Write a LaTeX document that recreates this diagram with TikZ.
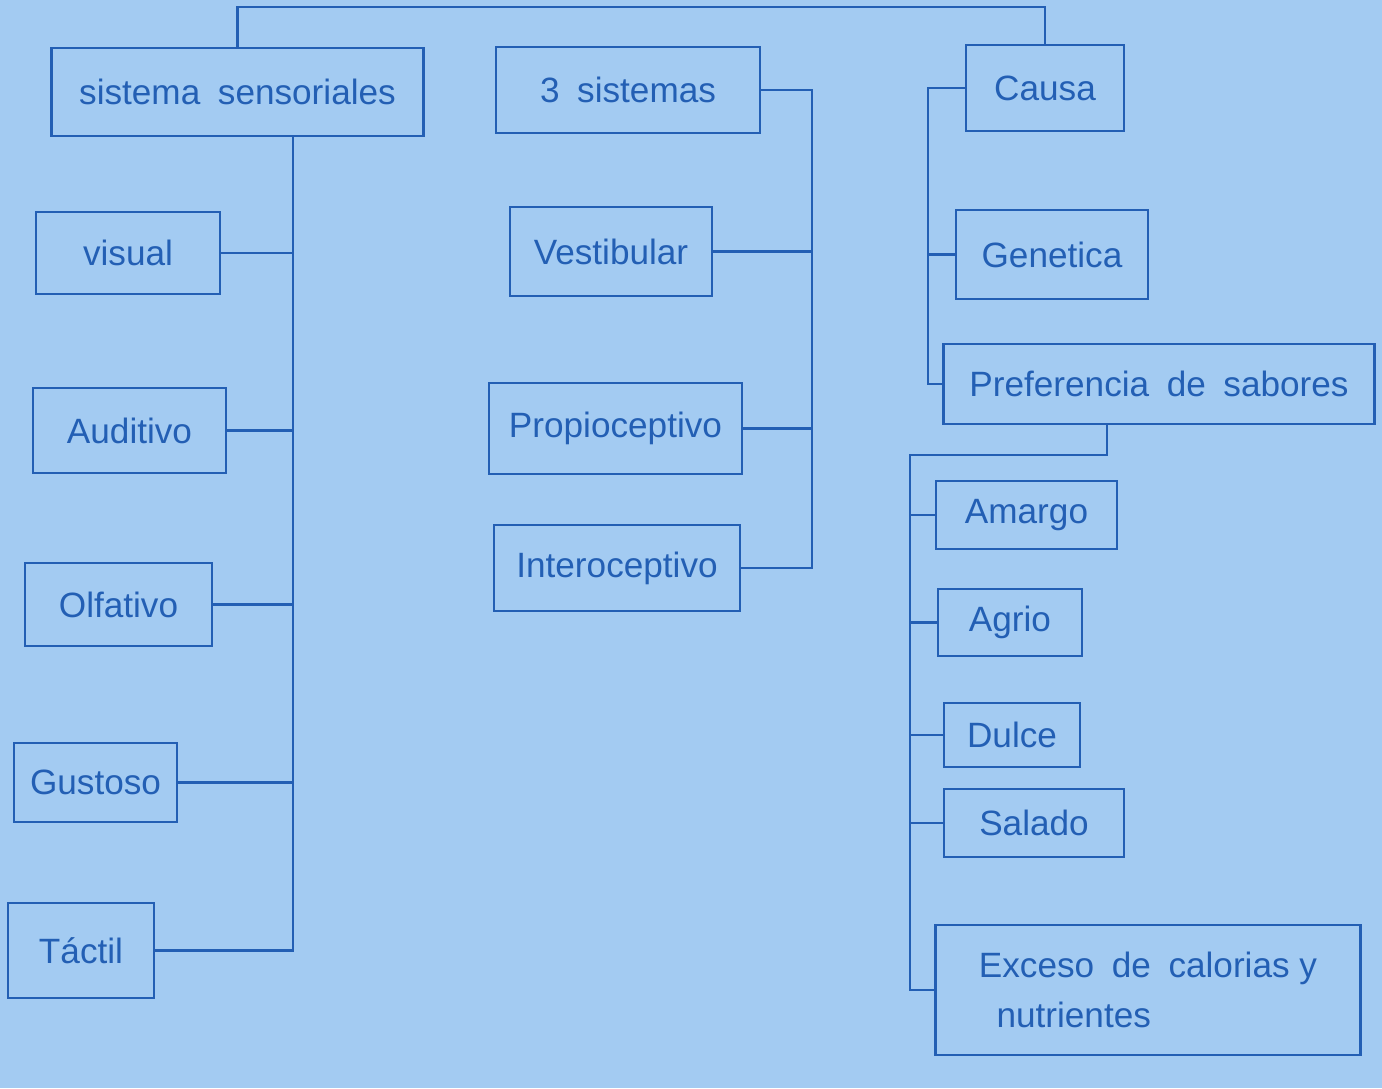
\documentclass[tikz,border=0pt]{standalone}
\usepackage{fontspec}
\setmainfont{Liberation Sans}
\definecolor{paper}{RGB}{163,203,242}
\definecolor{ink}{RGB}{35,95,180}
\begin{document}
\begin{tikzpicture}[x=0.01cm,y=-0.01cm,
  box/.style={draw=ink,line width=0.8pt,rectangle,inner sep=0pt,text=ink,
    font=\fontsize{10}{14}\selectfont,anchor=center},
  wire/.style={draw=ink,line width=0.8pt}]
\fill[paper] (0,0) rectangle (1382,1088);
\useasboundingbox (0,0) rectangle (1382,1088);
% left column
\node[box,minimum width=3.71cm,minimum height=0.88cm] (ss) at (237.5,92) {sistema\enspace sensoriales};
\node[box,minimum width=1.84cm,minimum height=0.82cm] (vis) at (128,253) {visual};
\node[box,minimum width=1.93cm,minimum height=0.85cm] (aud) at (129.5,430.5) {Auditivo};
\node[box,minimum width=1.87cm,minimum height=0.83cm] (olf) at (118.5,604.5) {Olfativo};
\node[box,minimum width=1.63cm,minimum height=0.79cm] (gus) at (95.5,782.5) {Gustoso};
\node[box,minimum width=1.46cm,minimum height=0.95cm] (tac) at (81,950.5) {Táctil};
% middle column
\node[box,minimum width=2.64cm,minimum height=0.86cm] (tres) at (628,90) {3\enspace sistemas};
\node[box,minimum width=2.02cm,minimum height=0.89cm] (ves) at (611,251.5) {Vestibular};
\node[box,minimum width=2.53cm,minimum height=0.91cm] (pro) at (615.5,428.5) {Propioceptivo};
\node[box,minimum width=2.46cm,minimum height=0.86cm] (int) at (617,568) {Interoceptivo};
% right column
\node[box,minimum width=1.58cm,minimum height=0.86cm] (cau) at (1045,88) {Causa};
\node[box,minimum width=1.92cm,minimum height=0.89cm] (gen) at (1052,254.5) {Genetica};
\node[box,minimum width=4.30cm,minimum height=0.80cm] (pref) at (1159,384) {Preferencia\enspace de\enspace sabores};
\node[box,minimum width=1.81cm,minimum height=0.68cm] (ama) at (1026.5,515) {Amargo};
\node[box,minimum width=1.44cm,minimum height=0.67cm] (agr) at (1010,622.5) {Agrio};
\node[box,minimum width=1.36cm,minimum height=0.64cm] (dul) at (1012,735) {Dulce};
\node[box,minimum width=1.80cm,minimum height=0.68cm] (sal) at (1034,823) {Salado};
\node[box,minimum width=4.24cm,minimum height=1.30cm,align=left] (exc) at (1148,990) {Exceso\enspace de\enspace calorias y\\\enspace nutrientes};
% coordinates for trunks
\coordinate (top) at (0,7);
\coordinate (lsp) at (293,0);
\coordinate (msp) at (812,0);
\coordinate (rsp) at (928,0);
\coordinate (pd) at (1107,0);
\coordinate (lsp2) at (910,455);
% top link
\draw[wire] (ss.north) -- (ss.north |- top) -| (cau.north);
% left tree
\draw[wire] (ss.south -| lsp) -- (tac.east -| lsp) -- (tac.east);
\foreach \n in {vis,aud,olf,gus} \draw[wire] (\n.east) -- (\n.east -| lsp);
% middle tree
\draw[wire] (tres.east) -- (tres.east -| msp) -- (int.east -| msp) -- (int.east);
\foreach \n in {ves,pro} \draw[wire] (\n.east) -- (\n.east -| msp);
% right tree
\draw[wire] (cau.west) -- (cau.west -| rsp) -- (pref.west -| rsp) -- (pref.west);
\draw[wire] (gen.west) -- (gen.west -| rsp);
% flavours
\draw[wire] (pref.south -| pd) -- (pd |- lsp2) -- (lsp2) -- (exc.west -| lsp2) -- (exc.west);
\foreach \n in {ama,agr,dul,sal} \draw[wire] (\n.west) -- (\n.west -| lsp2);
\end{tikzpicture}
\end{document}
